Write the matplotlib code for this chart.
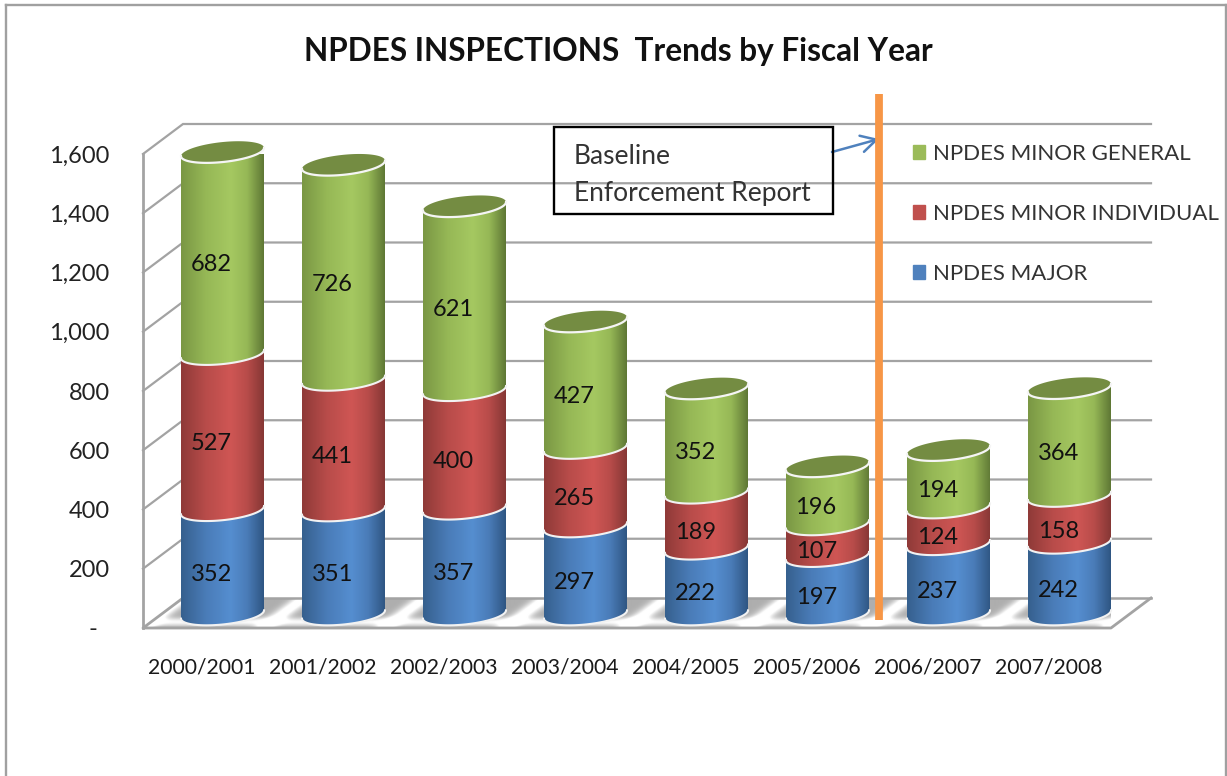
import numpy as np
import matplotlib
matplotlib.use("Agg")
import matplotlib.pyplot as plt
from matplotlib.colors import LinearSegmentedColormap
from matplotlib.patches import PathPatch, Patch, Rectangle, Polygon
from matplotlib.path import Path
from matplotlib.transforms import Affine2D
from matplotlib.lines import Line2D

years = ["2000/2001", "2001/2002", "2002/2003", "2003/2004",
         "2004/2005", "2005/2006", "2006/2007", "2007/2008"]
npdes_major = [352, 351, 357, 297, 222, 197, 237, 242]
npdes_minor_individual = [527, 441, 400, 265, 189, 107, 124, 158]
npdes_minor_general = [682, 726, 621, 427, 352, 196, 194, 364]
y_ticks = [0, 200, 400, 600, 800, 1000, 1200, 1400, 1600]
y_tick_labels = ["-  ", "200", "400", "600", "800", "1,000", "1,200", "1,400", "1,600"]

plt.rcParams["font.family"] = ["Lato", "DejaVu Sans"]
W, H = 1227, 776
fig = plt.figure(figsize=(W / 100, H / 100), dpi=100, facecolor="white")
ax = fig.add_axes([143 / W, 1 - 628 / H, 968 / W, 474 / H])
ax.set_xlim(-0.5, 7.5)
ax.set_ylim(0, 1600)
ax.set_autoscale_on(False)
for s in ax.spines.values():
    s.set_visible(False)
ax.patch.set_visible(False)
PXX, PXY = 121.0, 474 / 1600
PIX = Affine2D().scale(1, -1).translate(0, H)  # figure pixels, measured from the top

GRID = "#a3a3a3"
# outer border
for xs, ys in (([6, 6], [776, 5]), ([6, 1226], [5, 5]), ([1226, 1226], [5, 776])):
    fig.add_artist(Line2D(xs, ys, transform=PIX, color="#a0a0a0", lw=1.7))

# walls and gridlines, depth 40 px wide and 30 px high
dx, dy = 40 / PXX, 30 / PXY
for v in y_ticks[1:]:
    ax.plot([-0.5, -0.5 + dx, 7.5 + dx], [v, v + dy, v + dy], color=GRID, lw=1.6,
            clip_on=False, zorder=1, solid_joinstyle="miter")
ax.plot([-0.5, -0.5], [0, 1600], color=GRID, lw=2, clip_on=False, zorder=1)

# floor with its soft shadow
floor = Polygon([(-0.5, 0), (-0.5 + dx, dy), (7.5 + dx, dy), (7.5, 0)], closed=True,
                facecolor="none", edgecolor="none", zorder=1.5, clip_on=False)
ax.add_patch(floor)
u = np.linspace(-0.5, 7.5 + dx, 1100)
v = np.linspace(0, dy, 60)
U, V = np.meshgrid(u, v)
shade = np.full(U.shape, 0.68)
for k in range(-1, 9):
    c = k + 0.66 + (V / dy - 0.5) * 0.33
    shade = shade + 0.40 * np.exp(-((U - c) / 0.085) ** 2)
shade = shade + 0.30 * np.exp(-((V / dy - 0.2) / 0.14) ** 2)
shade = np.clip(shade, 0, 1)
im = ax.imshow(shade, extent=(u[0], u[-1], 0, dy), origin="lower", aspect="auto",
               cmap="gray", vmin=0, vmax=1, zorder=1.6, clip_on=True)
im.set_clip_path(floor)
ax.plot([7.5 + dx, 7.5, -0.5, -0.5 + dx], [dy, 0, 0, dy], color=GRID, lw=2,
        clip_on=False, zorder=1.7)
ax.plot([-0.5 + dx, 7.5 + dx], [dy, dy], color=GRID, lw=1.8, clip_on=False, zorder=1.7)


def ramp(a, b, c, d):
    return LinearSegmentedColormap.from_list(
        "r", [(0, a), (0.3, b), (0.6, c), (0.8, b), (1, d)])


series = [
    (npdes_major, ramp("#36608e", "#4a7cb8", "#558ed0", "#2f5683")),
    (npdes_minor_individual, ramp("#8f3a38", "#b84c4a", "#cf5654", "#863735")),
    (npdes_minor_general, ramp("#7a9744", "#96b856", "#a5c861", "#5f7835")),
]
HALF, MINOR, SLOPE = 41.5, 10.0, 0.1
OFFX, OFFY = 19 / PXX, 13.5 / PXY
t_front = np.linspace(np.pi, 2 * np.pi, 60)
t_full = np.linspace(0, 2 * np.pi, 120)


def rim(i, val, t):
    x = HALF * np.cos(t)
    y = MINOR * np.sin(t) + SLOPE * x
    return i + OFFX + x / PXX, val + OFFY + y / PXY


for i in range(len(years)):
    base = 0
    z = 3 + i
    for vals, cmap in series:
        top = base + vals[i]
        xb, yb = rim(i, base, t_front)
        xt, yt = rim(i, top, t_front[::-1])
        verts = np.r_[np.c_[xb, yb], np.c_[xt, yt], [[xb[0], yb[0]]]]
        patch = PathPatch(Path(verts), facecolor="none", edgecolor="none", zorder=z)
        ax.add_patch(patch)
        g = ax.imshow(np.linspace(0, 1, 128)[None, :],
                      extent=(i + OFFX - HALF / PXX, i + OFFX + HALF / PXX, base - 60, top + 60),
                      origin="lower", aspect="auto", cmap=cmap, zorder=z)
        g.set_clip_path(patch)
        ax.plot(xb, yb, color="#f2f2f2", lw=1.5, zorder=z + 0.2, clip_on=False)
        base = top
    xc, yc = rim(i, base, t_full)
    ax.fill(xc, yc, facecolor="#748c42", edgecolor="none", zorder=z + 0.3, clip_on=False)
    xf, yf = rim(i, base, t_front)
    ax.plot(xf, yf, color="#f5f5f5", lw=1.6, zorder=z + 0.4, clip_on=False)

# value labels
cum = np.zeros(len(years))
for vals, _ in series:
    for i, val in enumerate(vals):
        ax.annotate(str(val), (i, cum[i] + val / 2), xytext=(5.5, 1.3), textcoords="offset points",
                    ha="center", va="center", fontsize=17, color="#111111", zorder=20)
    cum = cum + np.array(vals)

# axes text
ax.set_xticks(range(len(years)), years)
ax.set_yticks(y_ticks, y_tick_labels)
ax.tick_params(axis="x", length=0, pad=21, labelsize=15.2, labelcolor="#1a1a1a")
ax.tick_params(axis="y", length=0, pad=24, labelsize=17, labelcolor="#222222")
for lab in ax.get_xticklabels():
    lab.set_transform(lab.get_transform() + Affine2D().translate(-2, 0))

fig.text(618 / W, 1 - 51 / H, "NPDES INSPECTIONS  Trends by Fiscal Year", ha="center", va="center",
         fontsize=22.7, fontweight="bold", color="#111111")

# baseline marker and note
fig.add_artist(Line2D([879, 879], [94, 620], transform=PIX, color="#f79646", lw=5.6, zorder=30,
                      solid_capstyle="butt"))
fig.add_artist(Rectangle((553.5, 127), 279, 87, transform=PIX, fill=False, edgecolor="black",
                         lw=1.7, zorder=31))
fig.text(574 / W, 1 - 156 / H, "Baseline", fontsize=19, va="center", color="#333333", zorder=32)
fig.text(574 / W, 1 - 193 / H, "Enforcement Report", fontsize=19, va="center", color="#333333", zorder=32)
ax.annotate("", xy=(879, 139), xytext=(832, 152), xycoords=PIX, textcoords=PIX, zorder=33,
            arrowprops=dict(arrowstyle="->,head_length=1.1,head_width=0.6", color="#4f81bd", lw=1.8,
                            shrinkA=0, shrinkB=0), annotation_clip=False)

# legend
handles = [Patch(color="#9bbb59"), Patch(color="#c0504d"), Patch(color="#4f81bd")]
labels = ["NPDES MINOR GENERAL", "NPDES MINOR INDIVIDUAL", "NPDES MAJOR"]
leg = fig.legend(handles, labels, loc="upper left", bbox_to_anchor=(913 / W, 1 - 144 / H),
                 frameon=False, fontsize=16, handlelength=0.55, handleheight=0.55,
                 handletextpad=0.35, labelspacing=1.8, borderaxespad=0, borderpad=0,
                 labelcolor="#333333")
leg.set_zorder(25)

fig.savefig("out.png", dpi=100)
